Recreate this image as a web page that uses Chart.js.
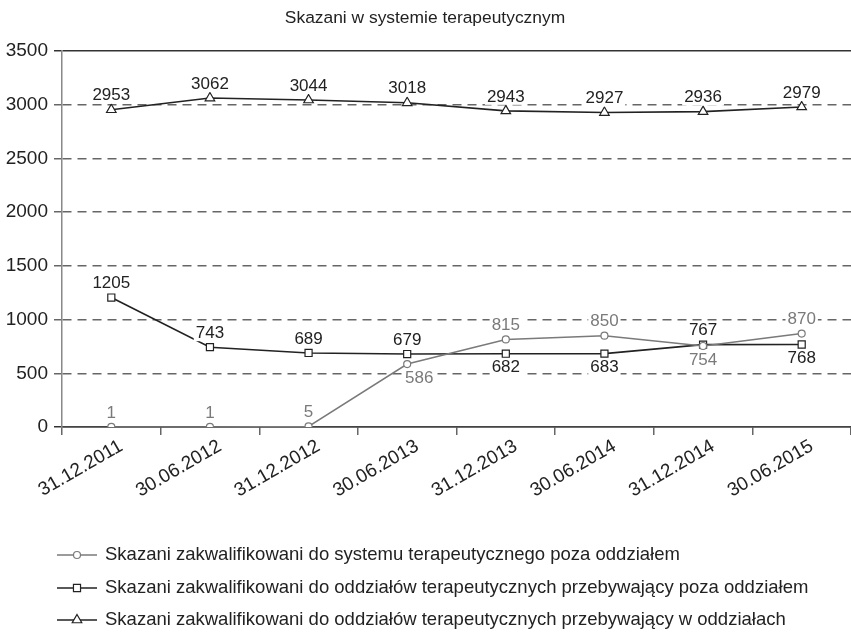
<!DOCTYPE html>
<html>
<head>
<meta charset="utf-8">
<script src="https://cdn.jsdelivr.net/npm/chart.js@4/dist/chart.umd.min.js"></script>
<style>
  html, body { margin: 0; padding: 0; background: #fff; }
  #wrap { position: relative; width: 851px; height: 634px; }
</style>
</head>
<body>
<div id="wrap"><canvas id="chart" width="851" height="634"></canvas></div>
<script>
// categories (dates)
const dates = ['31.12.2011', '30.06.2012', '31.12.2012', '30.06.2013', '31.12.2013', '30.06.2014', '31.12.2014', '30.06.2015'];

// series values
const pozaSystem = [1, 1, 5, 586, 815, 850, 754, 870];
const oddzialyPoza = [1205, 743, 689, 679, 682, 683, 767, 768];
const oddzialyW = [2953, 3062, 3044, 3018, 2943, 2927, 2936, 2979];

const seriesNames = [
  'Skazani zakwalifikowani do systemu terapeutycznego poza oddziałem',
  'Skazani zakwalifikowani do oddziałów terapeutycznych przebywający poza oddziałem',
  'Skazani zakwalifikowani do oddziałów terapeutycznych przebywający w oddziałach'
];

// where each value label sits relative to its point
const labelPos = [
  ['a', 'a', 'a', 'br', 'a', 'a', 'b', 'a'],
  ['a', 'a', 'a', 'a', 'b', 'b', 'a', 'b'],
  ['a', 'a', 'a', 'a', 'a', 'a', 'a', 'a']
];

const FONT = '"Liberation Sans", Arial, sans-serif';
const GRAY = '#7a7a7a';
const DARK = '#222';

const valueLabels = {
  id: 'valueLabels',
  afterDatasetsDraw(chart) {
    const ctx = chart.ctx;
    ctx.save();
    ctx.font = '17px ' + FONT;
    ctx.textAlign = 'center';
    ctx.textBaseline = 'middle';
    chart.data.datasets.forEach((ds, i) => {
      const meta = chart.getDatasetMeta(i);
      meta.data.forEach((pt, j) => {
        const txt = String(ds.data[j]);
        const pos = labelPos[i][j];
        let x = pt.x, y = pt.y - 14;
        if (pos === 'b') y = pt.y + 14;
        if (pos === 'br') { y = pt.y + 14; x = pt.x + 12; }
        const w = ctx.measureText(txt).width;
        ctx.fillStyle = '#fff';
        ctx.fillRect(x - w / 2 - 2, y - 8, w + 4, 16);
        ctx.fillStyle = ds.labelColor;
        ctx.fillText(txt, x, y);
      });
    });
    ctx.restore();
  },
  afterDraw(chart) {
    const ctx = chart.ctx;
    ctx.save();
    // title
    ctx.font = '17.4px ' + FONT;
    ctx.fillStyle = DARK;
    ctx.textAlign = 'center';
    ctx.textBaseline = 'middle';
    ctx.fillText('Skazani w systemie terapeutycznym', 425, 18);
    // legend
    const rows = [555, 588, 620];
    chart.data.datasets.forEach((ds, i) => {
      const y = rows[i];
      ctx.strokeStyle = ds.borderColor;
      ctx.lineWidth = 1.5;
      ctx.beginPath();
      ctx.moveTo(57, y);
      ctx.lineTo(97, y);
      ctx.stroke();
      ctx.fillStyle = '#fff';
      ctx.lineWidth = 1.2;
      Chart.helpers.drawPoint(ctx, { pointStyle: ds.pointStyle, radius: ds.pointRadius, rotation: 0, borderWidth: 1.2 }, 77, y);
      ctx.fillStyle = DARK;
      ctx.font = '18.5px ' + FONT;
      ctx.textAlign = 'left';
      ctx.textBaseline = 'middle';
      ctx.fillText(ds.label, 105, y);
    });
    ctx.restore();
  }
};

const isSolid = v => v === 0 || v === 3500;

new Chart(document.getElementById('chart'), {
  type: 'line',
  data: {
    labels: dates,
    datasets: [
      {
        label: seriesNames[0], data: pozaSystem,
        borderColor: GRAY, backgroundColor: '#fff', labelColor: GRAY,
        pointStyle: 'circle', pointRadius: 3.5, borderWidth: 1.5, pointBorderWidth: 1.2
      },
      {
        label: seriesNames[1], data: oddzialyPoza,
        borderColor: DARK, backgroundColor: '#fff', labelColor: DARK,
        pointStyle: 'rect', pointRadius: 5, borderWidth: 1.6, pointBorderWidth: 1.2
      },
      {
        label: seriesNames[2], data: oddzialyW,
        borderColor: DARK, backgroundColor: '#fff', labelColor: DARK,
        pointStyle: 'triangle', pointRadius: 5.5, borderWidth: 1.6, pointBorderWidth: 1.2
      }
    ]
  },
  options: {
    responsive: false,
    animation: false,
    layout: { autoPadding: false, padding: { top: 51, right: 0, left: 0, bottom: 0 } },
    plugins: {
      legend: { display: false },
      title: { display: false },
      tooltip: { enabled: false }
    },
    scales: {
      x: {
        offset: true,
        afterFit: s => { s.height = 207; s.paddingRight = 0; },
        grid: { offset: true, drawOnChartArea: false, drawTicks: true, tickLength: 8, color: '#666', lineWidth: 1.5 },
        border: { color: '#444', width: 1.5 },
        ticks: {
          color: DARK, font: { family: FONT, size: 19 },
          minRotation: 30, maxRotation: 30, padding: 0, labelOffset: 10, autoSkip: false
        }
      },
      y: {
        min: 0, max: 3500,
        afterFit: s => { s.width = 62; },
        grid: {
          color: ctx => isSolid(ctx.tick && ctx.tick.value) ? '#333' : '#666',
          lineWidth: 1.5, tickLength: 8, drawTicks: true
        },
        border: {
          color: '#888', width: 1.5,
          dash: ctx => (ctx.tick && !isSolid(ctx.tick.value)) ? [9, 6] : []
        },
        ticks: {
          stepSize: 500, color: DARK, font: { family: FONT, size: 19 }, padding: 6,
          callback: v => String(v)
        }
      }
    }
  },
  plugins: [valueLabels]
});
</script>
</body>
</html>
